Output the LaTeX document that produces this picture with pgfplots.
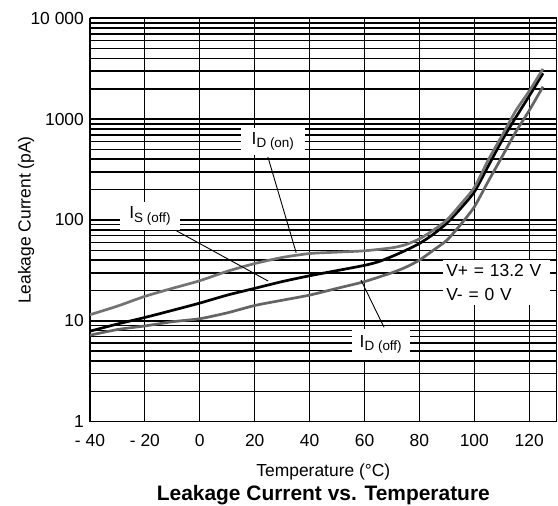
\documentclass[border=0pt]{standalone}
\usepackage{fontspec}
\setmainfont{Liberation Sans}
\usepackage{pgfplots}
\pgfplotsset{compat=1.18}
\usepackage{pgfplotstable}

\pgfplotstableread{
x y
-40 11.5
-30 14
-20 17.5
-10 21
0 25
10 31
20 37
30 42.5
40 46.5
50 48
60 49.5
70 53
75 57
80 65
85 79
90 100
95 143
100 210
105 390
110 680
115 1200
120 1900
125 3150
}\tDon

\pgfplotstableread{
x y
-40 7.9
-30 9.3
-20 10.8
-10 12.7
0 15
10 18
20 21
30 24.5
40 28
50 31.5
60 35.5
65 38.5
70 43.5
75 50
80 58.5
85 72
90 93
95 130
100 190
105 340
110 610
115 1030
120 1700
125 2850
}\tSoff

\pgfplotstableread{
x y
-40 7.2
-30 8.2
-20 8.9
-10 9.8
0 10.5
10 12
20 14.2
30 16
40 18
50 21
60 24.5
70 30
75 34
80 40
85 50
90 63
95 90
100 135
105 240
110 420
115 740
120 1220
125 2100
}\tDoff

\definecolor{grayA}{RGB}{115,115,115}
\definecolor{grayB}{RGB}{100,100,100}
\newcommand{\lab}{\fontsize{17.5}{21}\selectfont}
\newcommand{\sub}[1]{\raisebox{-3.5bp}{\fontsize{13.5}{14}\selectfont #1}}

\begin{document}
\begin{tikzpicture}
\begin{axis}[
  name=ax,
  scale only axis, width=466.7bp, height=403.4bp,
  xmin=-40, xmax=130, ymode=log, ymin=1, ymax=10000,
  xtick={-40,-20,0,20,40,60,80,100,120},
  xticklabels={- 40,- 20,0,20,40,60,80,100,120},
  ytick={1,10,100,1000,10000},
  yticklabels={1,10,100,1000,10 000},
  minor ytick={2,3,4,5,6,7,8,9,20,30,40,50,60,70,80,90,200,300,400,500,600,700,800,900,2000,3000,4000,5000,6000,7000,8000,9000},
  xmajorgrids, ymajorgrids, yminorgrids,
  x grid style={black, line width=1.1bp},
  y grid style={black, line width=1.6bp},
  axis line style={black, line width=1.4bp},
  major tick length=0pt, minor tick length=0pt,
  tick style={draw=none},
  tick label style={font=\lab},
  /pgf/number format/assume math mode=true,
  xticklabel style={yshift=-9bp},
  yticklabel style={xshift=-2.6bp},
  label style={font=\lab},
  xlabel={Temperature (°C)},
  ylabel={Leakage Current (pA)},
  xlabel style={at={(axis description cs:0.5,-0.1247)}, anchor=center},
  ylabel style={at={(axis description cs:-0.137,0.5)}, anchor=center},
  title={Leakage Current vs. Temperature},
  title style={at={(axis description cs:0.5,-0.197)}, anchor=center, font=\bfseries\fontsize{21}{24}\selectfont},
]
\addplot[black, line width=2.7bp, smooth, tension=0.4] table[x=x,y=y] {\tSoff};
\addplot[grayB, line width=2.7bp, smooth, tension=0.4] table[x=x,y=y] {\tDoff};
\addplot[grayA, line width=2.7bp, smooth, tension=0.4] table[x=x,y=y] {\tDon};

\draw[black, line width=0.9bp] (axis cs:24.8,422) -- (axis cs:35.1,47.4);
\draw[black, line width=0.9bp] (axis cs:-9.05,79.6) -- (axis cs:24.9,24.8);
\draw[black, line width=0.9bp] (axis cs:67.1,8.63) -- (axis cs:58.7,25.4);

\node[fill=white, inner sep=0pt, minimum width=64bp, minimum height=27bp, font=\lab] at (axis cs:26.6,600) {I\sub{D (on)}};
\node[fill=white, inner sep=0pt, minimum width=60bp, minimum height=28bp, font=\lab] at (axis cs:-18.15,110) {I\sub{S (off)}};
\node[fill=white, inner sep=0pt, minimum width=58bp, minimum height=31bp, font=\lab] at (axis cs:65.9,5.87) {I\sub{D (off)}};
\node[fill=white, inner xsep=3.5bp, inner ysep=0pt, text width=100bp, minimum height=45bp, align=left, font=\fontsize{17.5}{23.3}\selectfont] at (axis cs:108,24) {V+ = 13.2 V\\V- = 0 V};
\end{axis}
\pgfresetboundingbox
\path[use as bounding box] ([shift={(-90bp,-84.3bp)}]ax.south west) rectangle ([shift={(1.3bp,18.3bp)}]ax.north east);
\end{tikzpicture}
\end{document}
